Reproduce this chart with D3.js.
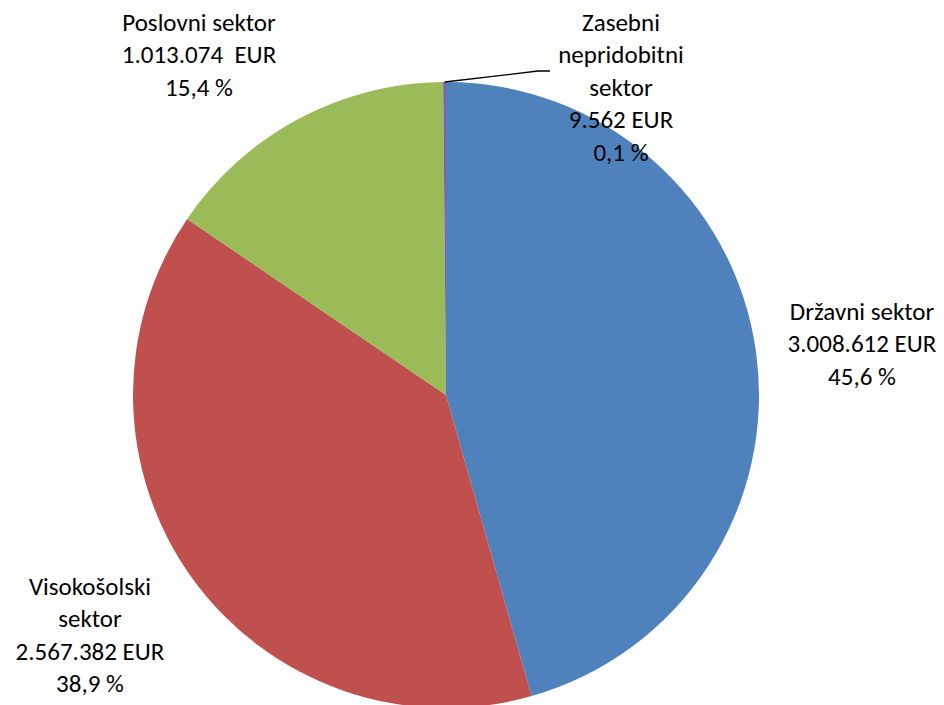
<!DOCTYPE html>
<html>
<head>
<meta charset="utf-8">
<script src="https://cdn.jsdelivr.net/npm/d3@7"></script>
<style>
  html, body { margin: 0; padding: 0; background: #fff; }
  svg { display: block; }
  text { font-family: Carlito, Calibri, Lato, "Open Sans", sans-serif; fill: #000; white-space: pre; }
</style>
</head>
<body>
<svg id="chart" width="944" height="705"></svg>
<script>
// ---- data ----
const categories = ["Državni sektor", "Visokošolski sektor", "Poslovni sektor", "Zasebni nepridobitni sektor"];
const values = [3008612, 2567382, 1013074, 9562];
const colors = ["#4F81BD", "#C0504D", "#9BBB59", "#8064A2"];
// label line breaks as in the original
const labelNameLines = [["Državni sektor"], ["Visokošolski", "sektor"], ["Poslovni sektor"], ["Zasebni", "nepridobitni", "sektor"]];
const amountSuffix = [" EUR", " EUR", "  EUR", " EUR"];

// ---- layout ----
const W = 944, H = 705;
const cx = 446, cy = 395, R = 313;
const fontSize = 25, lineH = 32.5;
// label block anchors (center x, center y of first line)
const labelAnchors = [[862, 311], [90, 586], [199, 22], [621, 22]];

const svg = d3.select("#chart");
const loc = d3.formatLocale({decimal: ",", thousands: ".", grouping: [3], currency: ["", ""]});
const fmtInt = loc.format(",d");
const fmtPct = loc.format(".1f");
const total = d3.sum(values);

const data = categories.map((c, i) => ({name: c, value: values[i], color: colors[i], i}));
const pie = d3.pie().sort(null).value(d => d.value).startAngle(0).endAngle(2 * Math.PI);
const arcs = pie(data);
const arc = d3.arc().innerRadius(0).outerRadius(R);

const g = svg.append("g").attr("transform", `translate(${cx},${cy})`);
g.selectAll("path.slice").data(arcs).join("path")
  .attr("class", "slice")
  .attr("d", arc)
  .attr("fill", d => d.data.color);

// leader line for the tiny slice
const tiny = arcs[3];
const mid = (tiny.startAngle + tiny.endAngle) / 2;
const p0 = [cx + R * Math.sin(mid), cy - R * Math.cos(mid)];
svg.append("polyline")
  .attr("points", [p0, [538, 71], [550, 71]].map(p => p.join(",")).join(" "))
  .attr("fill", "none").attr("stroke", "#000").attr("stroke-width", 1.3);

// labels
data.forEach((d, i) => {
  const lines = [...labelNameLines[i], fmtInt(d.value) + amountSuffix[i], fmtPct(d.value / total * 100) + " %"];
  const t = svg.append("text").attr("text-anchor", "middle").attr("font-size", fontSize)
    .attr("xml:space", "preserve");
  lines.forEach((ln, k) => {
    t.append("tspan")
      .attr("x", labelAnchors[i][0])
      .attr("y", labelAnchors[i][1] + k * lineH)
      .attr("dy", "0.35em")
      .text(ln);
  });
});
</script>
</body>
</html>
